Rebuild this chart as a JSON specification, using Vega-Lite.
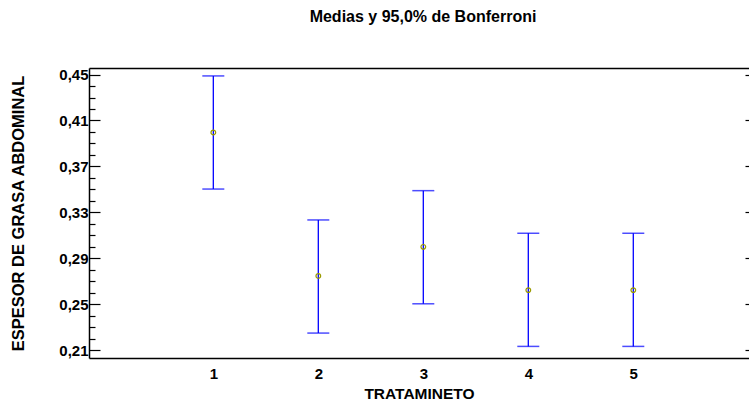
{
  "$schema": "https://vega.github.io/schema/vega-lite/v6.json",
  "width": 660,
  "height": 290,
  "autosize": "none",
  "padding": {"left": 89, "top": 68, "right": 0, "bottom": 47},
  "background": "white",
  "config": {
    "view": {"stroke": null},
    "font": "Liberation Sans"
  },
  "title": {
    "text": "Medias y 95,0% de Bonferroni",
    "font": "Liberation Sans",
    "fontSize": 16,
    "fontWeight": "bold",
    "color": "black",
    "anchor": "middle",
    "frame": "group",
    "dx": 4,
    "baseline": "alphabetic",
    "offset": 30
  },
  "data": {
    "values": [
      {"t": 1, "media": 0.3996, "lo": 0.3503, "hi": 0.4488},
      {"t": 2, "media": 0.2747, "lo": 0.2249, "hi": 0.3234},
      {"t": 3, "media": 0.3000, "lo": 0.2504, "hi": 0.3489},
      {"t": 4, "media": 0.2623, "lo": 0.2133, "hi": 0.3118},
      {"t": 5, "media": 0.2623, "lo": 0.2133, "hi": 0.3118}
    ]
  },
  "resolve": {"axis": {"x": "independent", "y": "independent"}},
  "layer": [
    {
      "mark": {"type": "rule", "color": "#0000ff", "strokeWidth": 1.3},
      "encoding": {
        "x": {
          "field": "t", "type": "quantitative",
          "scale": {"domain": [-0.184, 6.102], "nice": false, "zero": false},
          "axis": {
            "orient": "bottom",
            "values": [1, 2, 3, 4, 5],
            "ticks": false,
            "grid": false,
            "domainColor": "black",
            "domainWidth": 1.5,
            "labelFont": "Liberation Sans",
            "labelFontSize": 15,
            "labelFontWeight": "bold",
            "labelColor": "black",
            "labelPadding": 8,
            "labelBaseline": "top",
            "title": "TRATAMINETO",
            "titleFont": "Liberation Sans",
            "titleFontSize": 15.5,
            "titleFontWeight": "bold",
            "titleColor": "black",
            "titleBaseline": "alphabetic",
            "titleY": 40
          }
        },
        "y": {
          "field": "lo", "type": "quantitative",
          "scale": {"domain": [0.2032, 0.4557], "nice": false, "zero": false},
          "axis": {
            "orient": "left",
            "values": [0.21, 0.22, 0.23, 0.24, 0.25, 0.26, 0.27, 0.28, 0.29, 0.30, 0.31, 0.32, 0.33, 0.34, 0.35, 0.36, 0.37, 0.38, 0.39, 0.40, 0.41, 0.42, 0.43, 0.44, 0.45],
            "grid": false,
            "domainColor": "black",
            "domainWidth": 1.5,
            "tickColor": "black",
            "tickWidth": 1.2,
            "tickSize": {"condition": {"test": "(round(datum.value*100) - 21) % 4 == 0", "value": -11}, "value": -6},
            "labelExpr": "(round(datum.value*100) - 21) % 4 == 0 ? replace(format(datum.value, '.2f'), '.', ',') : ''",
            "labelOverlap": false,
            "labelFont": "Liberation Sans",
            "labelFontSize": 15,
            "labelFontWeight": "bold",
            "labelColor": "black",
            "labelPadding": 12,
            "title": "ESPESOR DE GRASA ABDOMINAL",
            "titleFont": "Liberation Sans",
            "titleFontSize": 16.5,
            "titleFontWeight": "bold",
            "titleColor": "black",
            "titleAngle": -90,
            "titleX": -71,
            "titleY": 145,
            "titleAlign": "center",
            "titleBaseline": "middle"
          }
        },
        "y2": {"field": "hi"}
      }
    },
    {
      "mark": {"type": "tick", "orient": "horizontal", "color": "#0000ff", "size": 22, "thickness": 1.5},
      "encoding": {
        "x": {"field": "t", "type": "quantitative", "scale": {"domain": [-0.184, 6.102], "nice": false, "zero": false}, "axis": null},
        "y": {"field": "lo", "type": "quantitative", "scale": {"domain": [0.2032, 0.4557], "nice": false, "zero": false}, "axis": null}
      }
    },
    {
      "mark": {"type": "tick", "orient": "horizontal", "color": "#0000ff", "size": 22, "thickness": 1.5},
      "encoding": {
        "x": {"field": "t", "type": "quantitative", "scale": {"domain": [-0.184, 6.102], "nice": false, "zero": false}, "axis": null},
        "y": {"field": "hi", "type": "quantitative", "scale": {"domain": [0.2032, 0.4557], "nice": false, "zero": false}, "axis": null}
      }
    },
    {
      "mark": {"type": "point", "shape": "circle", "filled": false, "color": "#9a9a00", "size": 22, "strokeWidth": 1.2, "opacity": 1},
      "encoding": {
        "x": {
          "field": "t", "type": "quantitative",
          "scale": {"domain": [-0.184, 6.102], "nice": false, "zero": false},
          "axis": {"orient": "top", "labels": false, "ticks": false, "grid": false, "title": null, "domainColor": "black", "domainWidth": 1.5}
        },
        "y": {
          "field": "media", "type": "quantitative",
          "scale": {"domain": [0.2032, 0.4557], "nice": false, "zero": false},
          "axis": {"orient": "right", "values": [0.21, 0.25, 0.29, 0.33, 0.37, 0.41, 0.45], "labels": false, "domain": false, "grid": false, "title": null, "tickColor": "black", "tickWidth": 1.2, "tickSize": -4}
        }
      }
    }
  ]
}
